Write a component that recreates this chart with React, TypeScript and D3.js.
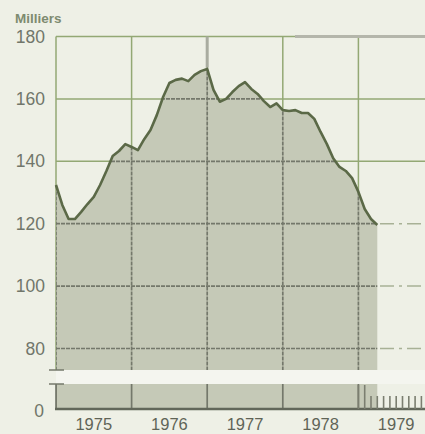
import React from 'react';
import * as d3 from 'd3';

// monthly values, thousands
const v1975 = [132.4, 126.0, 121.5, 121.5, 123.8, 126.3, 128.6, 132.4, 136.9, 141.7, 143.3, 145.5];
const v1976 = [144.6, 143.6, 147.1, 150.0, 154.8, 160.6, 165.1, 166.1, 166.5, 165.7, 167.7, 168.9];
const v1977 = [169.6, 162.9, 159.1, 160.0, 162.2, 164.1, 165.4, 163.2, 161.6, 159.3, 157.4, 158.6];
const v1978 = [156.4, 156.1, 156.4, 155.5, 155.5, 153.6, 149.4, 145.5, 141.0, 138.2, 136.9, 134.6];
const v1979 = [130.2, 124.7, 121.5, 119.6];

const years = [1975, 1976, 1977, 1978, 1979];
const yTicks = [180, 160, 140, 120, 100, 80];
const gridYears = [1975, 1976, 1977, 1978, 1979];

const W = 425;
const H = 434;
const baseY = 409;
const breakTop = 370;
const breakBottom = 384;

const FONT = '"Liberation Sans", Arial, Helvetica, sans-serif';

export default function App() {
  const x = d3.scaleLinear().domain([1975, 1980]).range([56, 434]);
  const y = d3.scaleLinear().domain([80, 180]).range([348.5, 36.5]);

  const data = [v1975, v1976, v1977, v1978, v1979].flatMap((arr, i) =>
    arr.map((v, m) => ({ t: years[i] + m / 12, v }))
  );

  const area = d3.area<{ t: number; v: number }>()
    .x(d => x(d.t))
    .y0(baseY)
    .y1(d => y(d.v));
  const line = d3.line<{ t: number; v: number }>()
    .x(d => x(d.t))
    .y(d => y(d.v));

  const green = '#93a874';
  const dark = '#74786b';
  const monthTicks = d3.range(48, 59).map(m => 1975 + m / 12);

  return (
    <svg width={W} height={H} style={{ position: 'absolute', left: 0, top: 0 }} fontFamily={FONT}>
      <defs>
        <clipPath id="fillClip">
          <path d={area(data) || ''} />
        </clipPath>
      </defs>
      <rect width={W} height={H} fill="#eef0e6" />

      {/* light grid (outside the shaded area) */}
      {yTicks.map(t => (
        <line key={'gh' + t} x1={56} x2={W} y1={y(t)} y2={y(t)}
          stroke={t <= 120 ? '#a8b196' : green} strokeWidth={1.5}
          strokeDasharray={t <= 120 ? '14 5 3 5' : undefined} />
      ))}
      {gridYears.map(t => (
        <line key={'gv' + t} x1={x(t)} x2={x(t)} y1={y(180)} y2={breakTop}
          stroke={green} strokeWidth={1.5} />
      ))}
      <line x1={x(1977)} x2={x(1977)} y1={y(180)} y2={y(170)} stroke="#a9aca0" strokeWidth={3} />
      <line x1={295} x2={W} y1={y(180)} y2={y(180)} stroke="#b4b6ab" strokeWidth={3} />

      {/* shaded area */}
      <path d={area(data) || ''} fill="#c5c9b7" />

      {/* dark grid inside the shaded area */}
      <g clipPath="url(#fillClip)">
        {yTicks.map(t => (
          <line key={'dh' + t} x1={56} x2={W} y1={y(t)} y2={y(t)}
            stroke={dark} strokeWidth={1.7} strokeDasharray="4 1" />
        ))}
        {gridYears.map(t => (
          <line key={'dv' + t} x1={x(t)} x2={x(t)} y1={y(180)} y2={breakTop}
            stroke={dark} strokeWidth={1.7} strokeDasharray="4 1" />
        ))}
        {gridYears.map(t => (
          <line key={'dl' + t} x1={x(t)} x2={x(t)} y1={breakBottom} y2={baseY}
            stroke={dark} strokeWidth={1.7} />
        ))}
      </g>

      {/* axis break */}
      <rect x={56} y={breakTop} width={W - 56} height={breakBottom - breakTop} fill="#f4f5ef" />
      <line x1={49} x2={64} y1={breakTop} y2={breakTop} stroke={dark} strokeWidth={1.5} />
      <line x1={49} x2={64} y1={breakBottom} y2={breakBottom} stroke={dark} strokeWidth={1.5} />
      <line x1={56} x2={56} y1={breakBottom} y2={baseY} stroke={dark} strokeWidth={1.7} />

      {/* baseline and monthly ticks */}
      <line x1={55} x2={W} y1={baseY} y2={baseY} stroke="#62675a" strokeWidth={2.5} />
      {monthTicks.map((t, i) => (
        <line key={'mt' + i} x1={x(t)} x2={x(t)} y1={i < 2 ? breakBottom + 1 : 396} y2={baseY}
          stroke="#7b7e70" strokeWidth={1.6} />
      ))}

      {/* series line */}
      <path d={line(data) || ''} fill="none" stroke="#5b6947" strokeWidth={2.6} strokeLinejoin="round" />

      {/* labels */}
      <text x={15} y={23} fontSize={13.5} fontWeight="bold" fill="#7e8b70">Milliers</text>
      {yTicks.map(t => (
        <text key={'yl' + t} x={45} y={y(t) + 6} textAnchor="end" fontSize={17.5} fill="#71766a">{t}</text>
      ))}
      <text x={44} y={417} textAnchor="end" fontSize={17.5} fill="#71766a">0</text>
      {years.map(yr => (
        <text key={'xl' + yr} x={x(yr + 0.5)} y={429.5} textAnchor="middle" fontSize={16.5} fill="#5f6457">{yr}</text>
      ))}
    </svg>
  );
}
